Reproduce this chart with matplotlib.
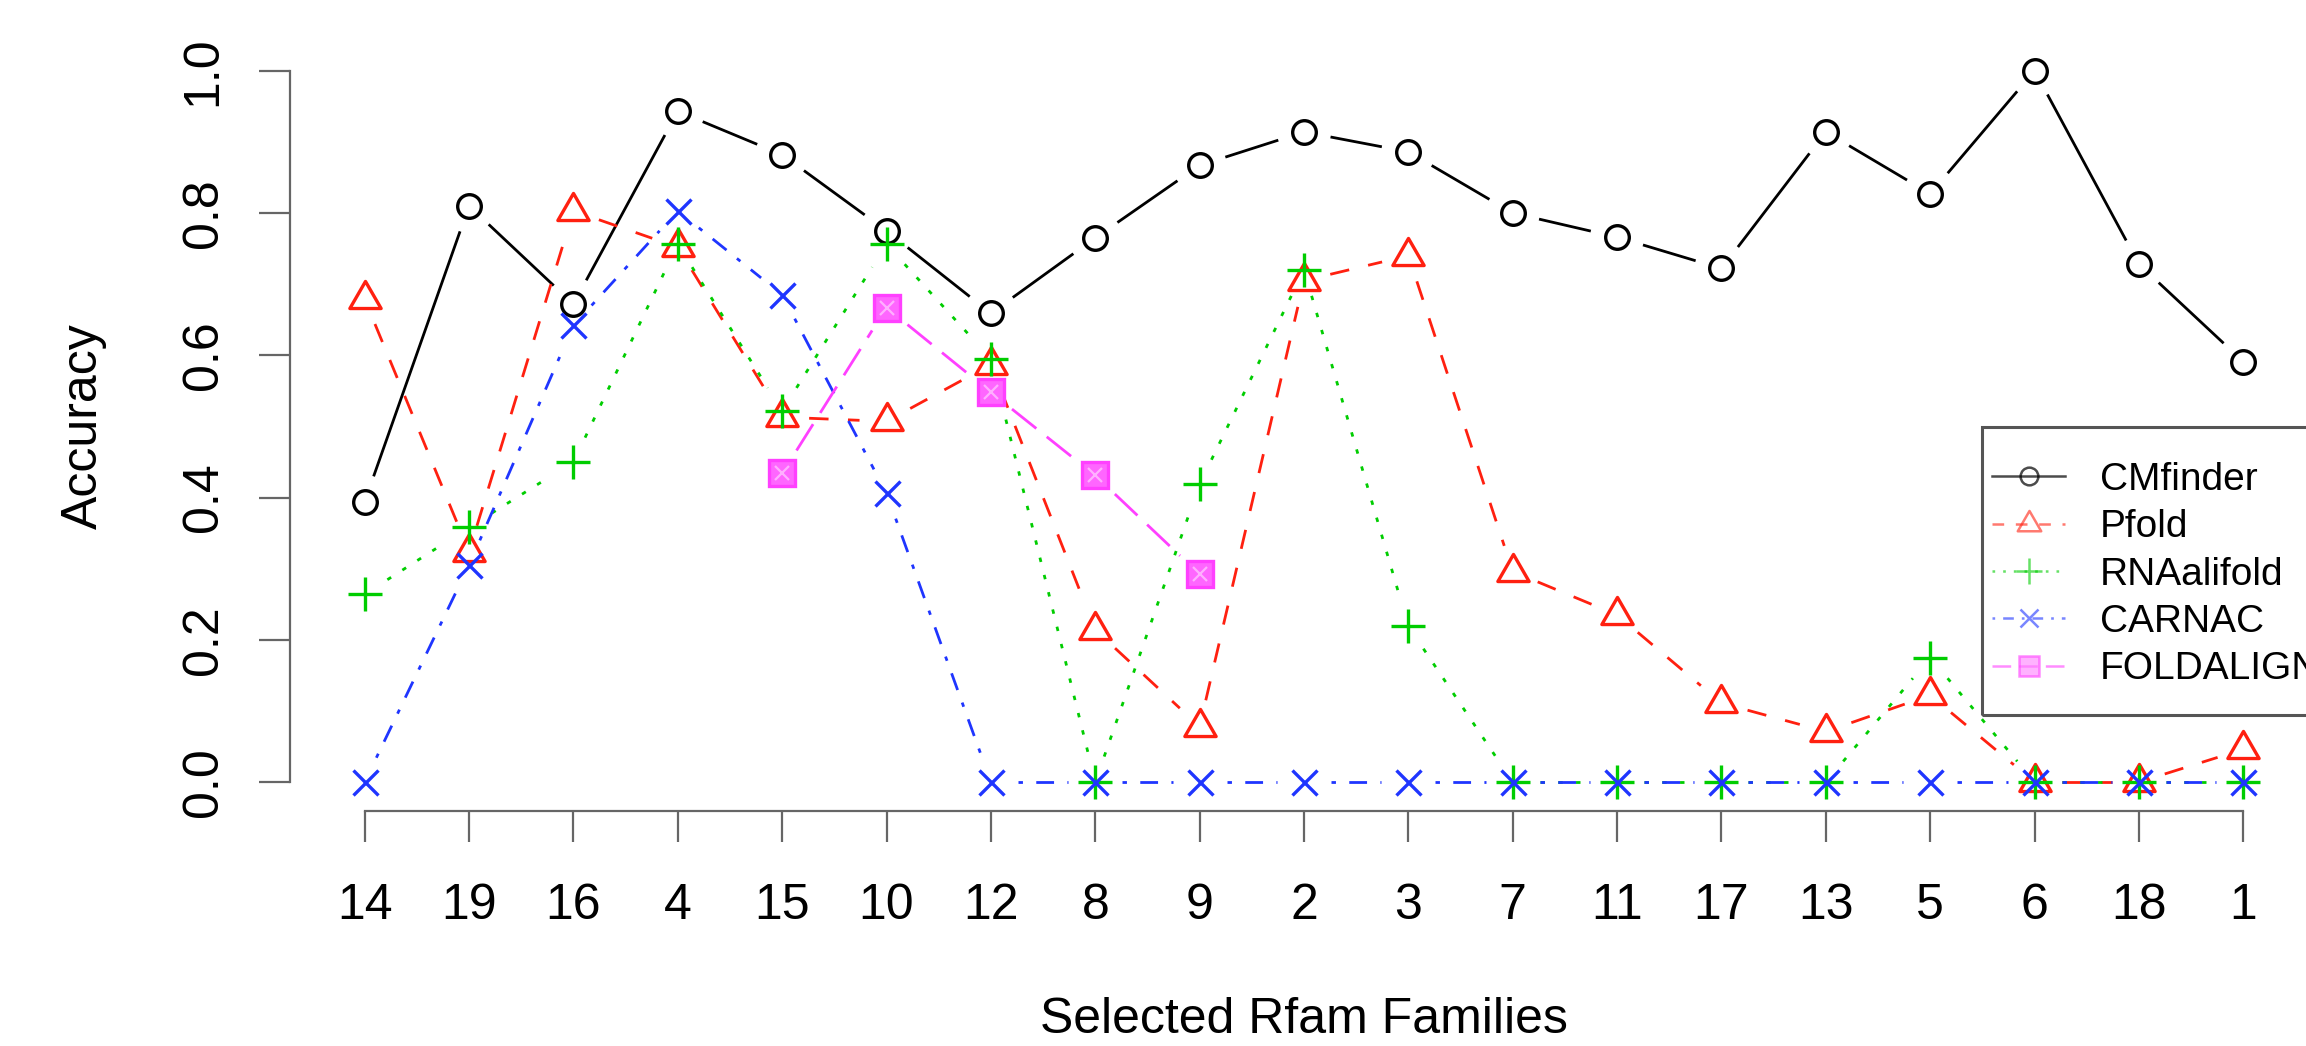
import numpy as np
import matplotlib
matplotlib.use("Agg")
import matplotlib.pyplot as plt
from matplotlib.path import Path
from matplotlib.lines import Line2D
from matplotlib.patches import Rectangle

plt.rcParams['font.family'] = ['Liberation Sans', 'DejaVu Sans']
plt.rcParams['lines.scale_dashes'] = False

# data: accuracy per selected Rfam family (in plotting order)
families = ['14', '19', '16', '4', '15', '10', '12', '8', '9', '2',
            '3', '7', '11', '17', '13', '5', '6', '18', '1']
cmfinder = [0.394, 0.810, 0.672, 0.943, 0.882, 0.775, 0.659, 0.765, 0.867, 0.914,
            0.886, 0.800, 0.766, 0.722, 0.914, 0.827, 1.000, 0.728, 0.591]
pfold = [0.679, 0.324, 0.803, 0.752, 0.513, 0.507, 0.587, 0.214, 0.078, 0.705,
         0.740, 0.296, 0.235, 0.111, 0.071, 0.122, 0.0, 0.0, 0.046]
rnaalifold = [0.264, 0.358, 0.450, 0.756, 0.522, 0.756, 0.595, 0.0, 0.419, 0.720,
              0.219, 0.0, 0.0, 0.0, 0.0, 0.175, 0.0, 0.0, 0.0]
carnac = [0.0, 0.305, 0.642, 0.803, 0.685, 0.406, 0.0, 0.0, 0.0, 0.0,
          0.0, 0.0, 0.0, 0.0, 0.0, 0.0, 0.0, 0.0, 0.0]
nan = np.nan
foldalign = [nan, nan, nan, nan, 0.434, 0.667, 0.548, 0.431, 0.292, nan,
             nan, nan, nan, nan, nan, nan, nan, nan, nan]
series_names = ['CMfinder', 'Pfold', 'RNAalifold', 'CARNAC', 'FOLDALIGN']

# R-like triangle, centred on its centroid
tri = Path([(0, 1.555), (1.347, -0.778), (-1.347, -0.778), (0, 1.555)],
           [Path.MOVETO, Path.LINETO, Path.LINETO, Path.CLOSEPOLY])

u = 3.2  # R line-type unit in points
styles = [
    dict(color='black', marker='o', ms=17, dashes=None),
    dict(color='#FF2010', marker=tri, ms=26, dashes=(14, 14)),
    dict(color='#00CD00', marker='+', ms=25, dashes=(u, 3 * u)),
    dict(color='#1F35FF', marker='x', ms=18, dashes=(u, 3 * u, 4 * u, 3 * u)),
    dict(color='#FF40FF', marker='s', ms=19, dashes=(7 * u, 3 * u)),
]

fig = plt.figure(figsize=(23.06, 10.46), dpi=100)
ax = fig.add_axes([289.5 / 2306, 1 - 810.5 / 1046, 2029 / 2306, 768.2 / 1046])
x = np.arange(1, len(families) + 1)
ax.set_xlim(0.28, 19.72)
ax.set_ylim(-0.04, 1.04)

def draw_b(ax, xs, ys, gap, **kw):
    # lines with gaps around points, like R's type="b"
    pts = ax.transData.transform(np.column_stack([xs, ys]))
    inv = ax.transData.inverted()
    for i in range(len(xs) - 1):
        if np.isnan(ys[i]) or np.isnan(ys[i + 1]):
            continue
        p0, p1 = pts[i], pts[i + 1]
        d = p1 - p0
        L = np.hypot(d[0], d[1])
        if L <= 2 * gap:
            continue
        seg = inv.transform([p0 + d / L * gap, p1 - d / L * gap])
        ax.plot(seg[:, 0], seg[:, 1], solid_capstyle='butt',
                dash_capstyle='butt', **kw)

data = [cmfinder, pfold, rnaalifold, carnac, foldalign]
handles = []
for i, (vals, st) in enumerate(zip(data, styles)):
    ys = np.array(vals, dtype=float)
    kw = dict(color=st['color'], lw=2.0, zorder=2 + i)
    if st['dashes'] is not None:
        kw['dashes'] = st['dashes']
    draw_b(ax, x, ys, 27, **kw)
    if st['marker'] == 's':
        # boxed cross, reads as a nearly solid square at this size
        ax.plot(x, ys, ls='none', marker='s', ms=st['ms'], mew=2.4,
                mfc='#FF66FF', mec=st['color'], zorder=2 + i)
        ax.plot(x, ys, ls='none', marker='x', ms=st['ms'] * 0.55, mew=1.6,
                mec='#FFB0FF', zorder=2 + i)
        mfc_leg = '#FF80FF'
    else:
        ax.plot(x, ys, ls='none', marker=st['marker'], ms=st['ms'], mew=2.4,
                mfc='none', mec=st['color'], zorder=2 + i)
        mfc_leg = 'none'
    hkw = dict(color=st['color'], lw=1.8, marker=st['marker'], ms=st['ms'] * 0.75,
               mew=1.8, mfc=mfc_leg, alpha=0.6 if i > 0 else 0.7)
    if st['dashes'] is not None:
        hkw['dashes'] = tuple(v * 0.6 for v in st['dashes'])
    handles.append(Line2D([], [], **hkw))

for side in ['top', 'right']:
    ax.spines[side].set_visible(False)
for side in ['left', 'bottom']:
    ax.spines[side].set_color('#666666')
    ax.spines[side].set_linewidth(1.6)
ax.spines['left'].set_bounds(0, 1)
ax.spines['bottom'].set_bounds(1, 19)

ax.set_xticks(x)
ax.set_xticklabels(families)
ax.set_yticks([0, 0.2, 0.4, 0.6, 0.8, 1.0])
ax.set_yticklabels(['0.0', '0.2', '0.4', '0.6', '0.8', '1.0'], rotation=90, va='center')
ax.tick_params(axis='both', length=22.3, width=1.6, color='#666666', labelsize=36)
ax.tick_params(axis='x', pad=30)
ax.tick_params(axis='y', pad=23)

ax.set_xlabel('Selected Rfam Families', fontsize=36, labelpad=49)
ax.set_ylabel('Accuracy', fontsize=36, labelpad=53)

# legend box, running off the right edge as in the original
fig.add_artist(Rectangle((1982 / 2306, 1 - 715 / 1046), 450 / 2306, 288 / 1046,
                         transform=fig.transFigure, fill=False,
                         edgecolor='#555555', linewidth=2.2, clip_on=False))
leg = fig.legend(handles, series_names, loc='upper left',
                 bbox_to_anchor=(1992 / 2306, 1 - 462 / 1046),
                 fontsize=28, frameon=False, handlelength=1.88,
                 handletextpad=0.9, labelspacing=0.29, borderpad=0,
                 borderaxespad=0, numpoints=1)

fig.savefig('out.png', dpi=100)
